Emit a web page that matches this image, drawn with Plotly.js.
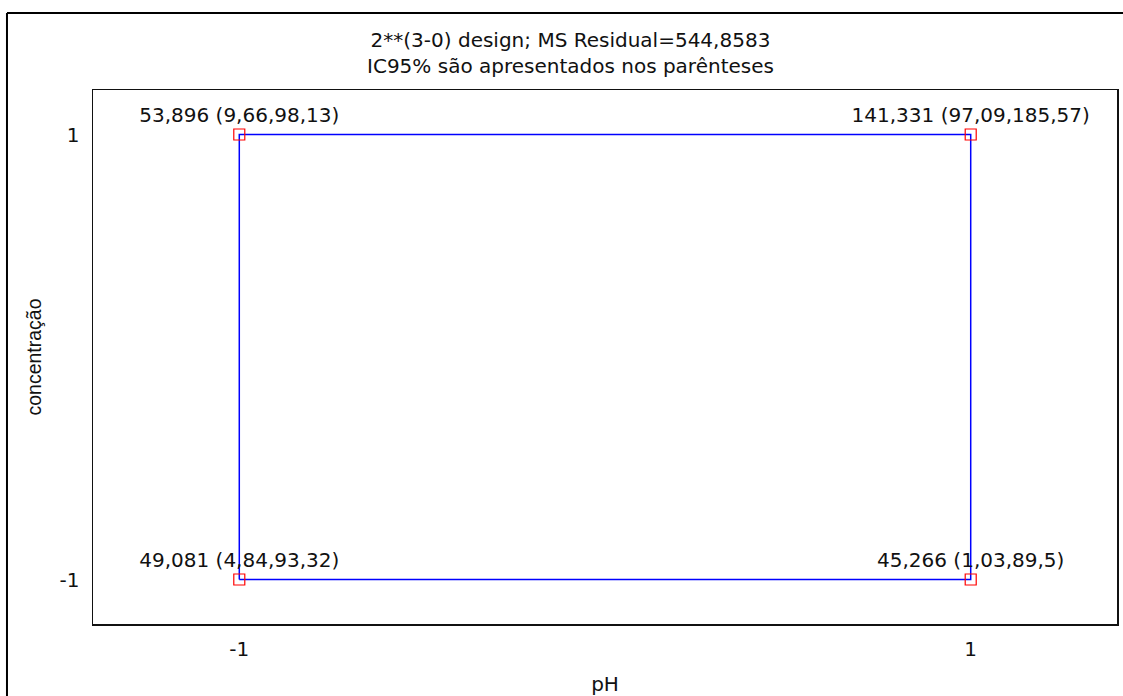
<!DOCTYPE html>
<html>
<head>
<meta charset="utf-8">
<script src="https://cdn.plot.ly/plotly-3.0.1.min.js"></script>
<style>html,body{margin:0;padding:0;background:#fff;}#chart{width:1123px;height:696px;}</style>
</head>
<body>
<div id="chart"></div>
<script>
// Data
const pH = [-1, -1, 1, 1];
const concentracao = [-1, 1, 1, -1];
const meanValues = ["49,081", "53,896", "141,331", "45,266"];
const ciLower = ["4,84", "9,66", "97,09", "1,03"];
const ciUpper = ["93,32", "98,13", "185,57", "89,5"];
const xTickVals = [-1, 1];
const xTickText = ["-1", "1"];
const yTickVals = [-1, 1];
const yTickText = ["-1", "1"];
const titleLines = ["2**(3-0) design; MS Residual=544,8583", "IC95% são apresentados nos parênteses"];

const labels = meanValues.map((m, i) => m + " (" + ciLower[i] + "," + ciUpper[i] + ")");
const lineX = pH.concat([pH[0]]);
const lineY = concentracao.concat([concentracao[0]]);

const FONT = "DejaVu Sans, Liberation Sans, Arial, sans-serif";
const FONT2 = "Liberation Sans, Arial, sans-serif";
const FS = 20;

const traces = [
  {
    x: lineX, y: lineY, mode: "lines", type: "scatter",
    line: {color: "#0000ff", width: 1.5}, hoverinfo: "skip", showlegend: false
  },
  {
    x: pH, y: concentracao, mode: "markers+text", type: "scatter",
    text: labels, textposition: "top center",
    textfont: {family: FONT, size: FS, color: "#111"},
    marker: {symbol: "square-open", size: 11, color: "#ff0000", line: {width: 1.2, color: "#ff0000"}},
    showlegend: false, cliponaxis: false
  }
];

const layout = {
  width: 1123, height: 696,
  margin: {l: 93, r: 6, t: 90, b: 72},
  paper_bgcolor: "#fff", plot_bgcolor: "#fff",
  font: {family: FONT, size: FS, color: "#111"},
  title: {text: titleLines.join("<br>"), x: 0.508, xanchor: "center", xref: "container",
          y: 0.9325, yanchor: "middle", yref: "container",
          font: {family: FONT, size: FS, color: "#111"}},
  xaxis: {
    range: [-1.4, 1.4], tickvals: xTickVals, ticktext: xTickText,
    showgrid: false, zeroline: false, showline: true, mirror: true,
    linecolor: "#111", linewidth: 1.5, ticks: "", ticklen: 0, ticklabelstandoff: 6,
    tickfont: {family: FONT, size: FS, color: "#111"},
    title: {text: "pH", font: {family: FONT, size: FS, color: "#111"}, standoff: 19}
  },
  yaxis: {
    range: [-1.2, 1.2], tickvals: yTickVals, ticktext: yTickText,
    showgrid: false, zeroline: false, showline: true, mirror: true,
    linecolor: "#111", linewidth: 1.5, ticks: "", ticklen: 0, ticklabelstandoff: 8,
    tickfont: {family: FONT, size: FS, color: "#111"},
    title: {text: "concentração", font: {family: FONT2, size: 19.5, color: "#111"}, standoff: 12}
  },
  shapes: [
    {type: "line", xref: "paper", yref: "paper", x0: -0.084, x1: -0.084, y0: 1.1442, y1: -0.2,
     line: {color: "#000", width: 2}},
    {type: "line", xref: "paper", yref: "paper", x0: -0.084, x1: 1.05, y0: 1.1442, y1: 1.1442,
     line: {color: "#000", width: 2}}
  ]
};

Plotly.newPlot("chart", traces, layout, {staticPlot: true, displayModeBar: false});
</script>
</body>
</html>
